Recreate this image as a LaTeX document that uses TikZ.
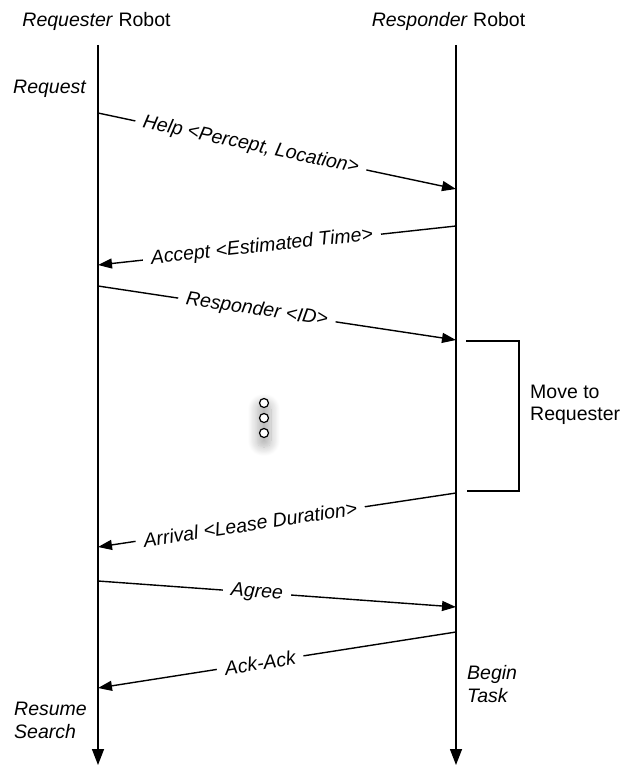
\documentclass[tikz,border=0pt]{standalone}
\usepackage{fontspec}
\setmainfont{Liberation Sans}
\usetikzlibrary{arrows.meta,shadows.blur}
\begin{document}
\begin{tikzpicture}[x=1pt,y=-1pt,
  font=\fontsize{19.5}{23}\selectfont,
  lifeline/.style={line width=1.4pt,-{Triangle[length=16pt,width=12pt]}},
  msg/.style={line width=1.4pt,-{Triangle[length=14pt,width=10pt]}},
  msglabel/.style={sloped,fill=white,inner xsep=8pt,inner ysep=1pt,
    font=\fontsize{19.5}{23}\selectfont\itshape},
  title/.style={anchor=base,inner sep=0pt},
  note/.style={align=left,anchor=north west,inner sep=0pt,
    font=\fontsize{19.5}{23}\selectfont\itshape},
  bracket/.style={line width=1.4pt},
  dot/.style={circle,draw,line width=1.2pt,fill=white,minimum size=9pt,inner sep=0pt},
  haze/.style={rounded corners=6pt,minimum width=14pt,minimum height=44pt,
    blur shadow={shadow xshift=0pt,shadow yshift=-7pt,shadow blur radius=9pt,
      shadow blur steps=12,shadow opacity=30}}]
\useasboundingbox (0,0) rectangle (628,768);

% participants
\node[title] (reqtitle) at (96.5,27) {\textit{Requester} Robot};
\node[title] (restitle) at (448.5,27) {\textit{Responder} Robot};

% lifelines
\coordinate (reqtop) at (98,45);
\coordinate (reqend) at (98,765);
\coordinate (restop) at (456,45);
\coordinate (resend) at (456,765);
\draw[lifeline] (reqtop) -- (reqend);
\draw[lifeline] (restop) -- (resend);

% message end points on the lifelines
\coordinate (help-s) at (98,113);
\coordinate (help-e) at (456,189);
\coordinate (accept-s) at (456,226);
\coordinate (accept-e) at (98,265);
\coordinate (resp-s) at (98,286);
\coordinate (resp-e) at (456,340);
\coordinate (arrival-s) at (456,493);
\coordinate (arrival-e) at (98,547);
\coordinate (agree-s) at (98,581);
\coordinate (agree-e) at (456,607);
\coordinate (ack-s) at (456,632);
\coordinate (ack-e) at (98,688);

% messages
\draw[msg] (help-s) -- node[msglabel,pos=0.427] (help-l) {Help <Percept, Location>} (help-e);
\draw[msg] (accept-s) -- node[msglabel,pos=0.542] (accept-l) {Accept <Estimated Time>} (accept-e);
\draw[msg] (resp-s) -- node[msglabel,pos=0.444] (resp-l) {Responder <ID>} (resp-e);
\draw[msg] (arrival-s) -- node[msglabel,pos=0.575] (arrival-l) {Arrival <Lease Duration>} (arrival-e);
\draw[msg] (agree-s) -- node[msglabel,pos=0.444] (agree-l) {Agree} (agree-e);
\draw[msg] (ack-s) -- node[msglabel,pos=0.547] (ack-l) {Ack-Ack} (ack-e);

% activity bracket on the responder side
\coordinate (mv-a) at (466,341);
\coordinate (mv-b) at (519,341);
\coordinate (mv-c) at (519,491);
\coordinate (mv-d) at (467,491);
\draw[bracket] (mv-a) -- (mv-b) -- (mv-c) -- (mv-d);
\node[note,font=\fontsize{19.5}{22}\selectfont] (move) at (530,385) {Move to\\Requester};

% state notes
\node[anchor=base west,inner sep=0pt,font=\fontsize{19.5}{23}\selectfont\itshape] (request) at (13,93) {Request};
\node[note] (begin) at (467,665) {Begin\\Task};
\node[note] (resume) at (14,702) {Resume\\Search};

% vertical ellipsis with its soft shadow
\node[haze] (dots-bg) at (264,418) {};
\node[dot] (dot1) at (264,403) {};
\node[dot] (dot2) at (264,418) {};
\node[dot] (dot3) at (264,433) {};
\end{tikzpicture}
\end{document}
